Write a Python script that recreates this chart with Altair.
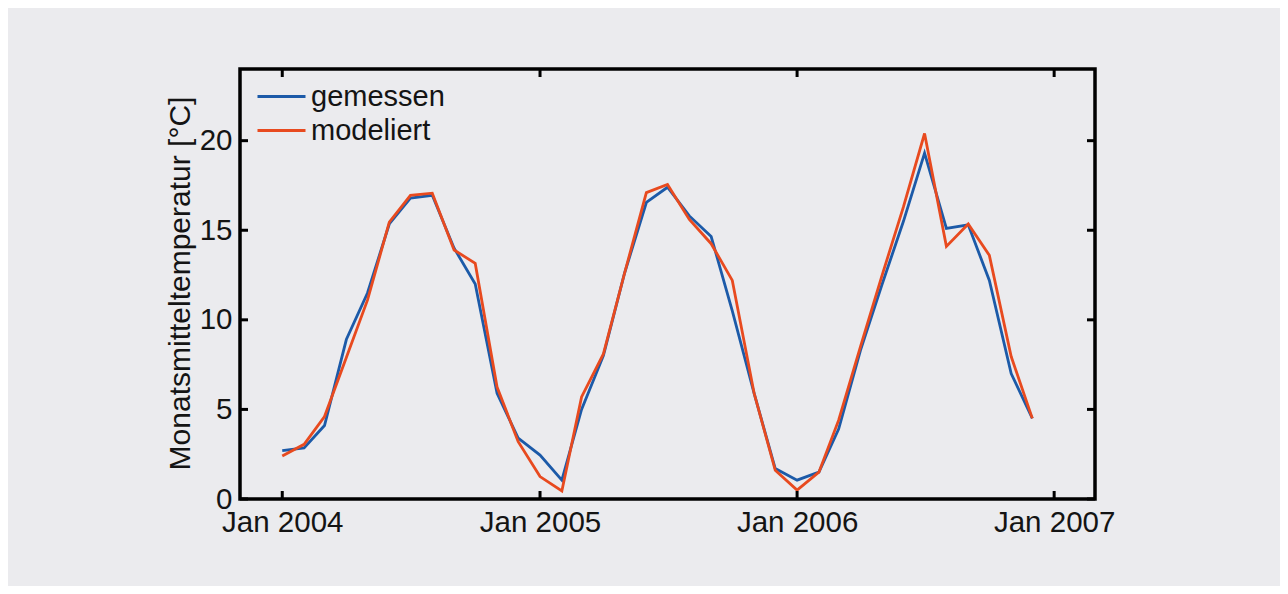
import altair as alt
import pandas as pd

# Monatswerte Jan 2004 - Dez 2006
monate = [f"{j}-{m:02d}-01" for j in (2004, 2005, 2006) for m in range(1, 13)]
gemessen = [2.7, 2.85, 4.1, 8.9, 11.5, 15.35, 16.8, 16.95, 14.0, 12.0, 5.9, 3.4,
            2.45, 1.05, 5.0, 8.0, 12.6, 16.55, 17.4, 15.8, 14.65, 10.5, 5.9, 1.7,
            1.05, 1.5, 3.9, 8.3, 11.9, 15.5, 19.3, 15.1, 15.3, 12.2, 7.0, 4.5]
modeliert = [2.4, 3.05, 4.6, 7.9, 11.1, 15.45, 16.95, 17.07, 13.9, 13.15, 6.25, 3.2,
             1.25, 0.45, 5.7, 8.1, 12.6, 17.1, 17.55, 15.6, 14.25, 12.2, 5.9, 1.6,
             0.5, 1.5, 4.4, 8.5, 12.4, 16.3, 20.4, 14.1, 15.35, 13.6, 7.95, 4.5]
serien = ["gemessen", "modeliert"]
farben = ["#1c5aa8", "#e84a1f"]
y_ticks = [0, 5, 10, 15, 20]
x_ticks = ["2004-01-01", "2005-01-01", "2006-01-01", "2007-01-01"]
x_tick_years = [2004, 2005, 2006, 2007]

df = pd.DataFrame({
    "Monat": monate * 2,
    "Temperatur": gemessen + modeliert,
    "Reihe": ["gemessen"] * len(monate) + ["modeliert"] * len(monate),
})
xt = pd.DataFrame({"Monat": x_ticks})
yt = pd.DataFrame({"Temperatur": y_ticks})

W, H = 855, 430
FONT = "Liberation Sans"
TEXT = "#141414"
TL = 8

x_scale = alt.Scale(
    type="utc",
    domain=[alt.DateTime(year=2003, month=11, date=2, utc=True),
            alt.DateTime(year=2007, month=2, date=28, utc=True)],
)
y_scale = alt.Scale(domain=[0, 24], nice=False, zero=False)

x_axis = alt.Axis(values=[alt.DateTime(year=y, month=1, date=1, utc=True) for y in x_tick_years],
                  format="%b %Y", title=None, labelPadding=9, labelFlush=False,
                  labelOverlap=False)
y_axis = alt.Axis(values=y_ticks, title="Monatsmitteltemperatur [°C]",
                  labelPadding=8, titleX=-51, titleY=H / 2 - 1, titleAngle=270,
                  titleAlign="center", titleBaseline="alphabetic")

X = alt.X("Monat:T", scale=x_scale, axis=x_axis)
Y = alt.Y("Temperatur:Q", scale=y_scale, axis=y_axis)

linien = alt.Chart(df).mark_line(strokeWidth=2.8).encode(
    x=X, y=Y,
    color=alt.Color("Reihe:N", scale=alt.Scale(domain=serien, range=farben),
                    legend=alt.Legend(title=None, orient="none", legendX=27, legendY=13,
                                      symbolType="M-2,0H2", symbolSize=576,
                                      symbolStrokeWidth=3, labelFontSize=29,
                                      labelFont=FONT, labelColor=TEXT,
                                      labelOffset=15, rowPadding=4, padding=0)),
)

rule_style = dict(color="black", strokeWidth=3)
x_bottom = alt.Chart(xt).mark_rule(**rule_style).encode(
    x=X, y=alt.value(H - TL), y2=alt.value(H))
x_top = alt.Chart(xt).mark_rule(**rule_style).encode(
    x=X, y=alt.value(0), y2=alt.value(TL))
y_left = alt.Chart(yt).mark_rule(**rule_style).encode(
    y=Y, x=alt.value(0), x2=alt.value(TL))
y_right = alt.Chart(yt).mark_rule(**rule_style).encode(
    y=Y, x=alt.value(W - TL), x2=alt.value(W))

chart = alt.layer(linien, x_bottom, x_top, y_left, y_right).properties(
    width=W, height=H,
    autosize=alt.AutoSizeParams(type="none"),
    padding={"left": 232, "top": 61, "right": 185, "bottom": 87},
).configure(
    background="#ebebee", font=FONT,
).configure_view(
    stroke="black", strokeWidth=3.5,
).configure_axis(
    labelFont=FONT, labelFontSize=29.5, labelColor=TEXT,
    tickSize=0, domain=False, grid=False,
    titleFont=FONT, titleFontSize=30, titleFontWeight="normal", titleColor=TEXT,
)

chart.save("out.html", embed_options={"renderer": "svg", "actions": False})
